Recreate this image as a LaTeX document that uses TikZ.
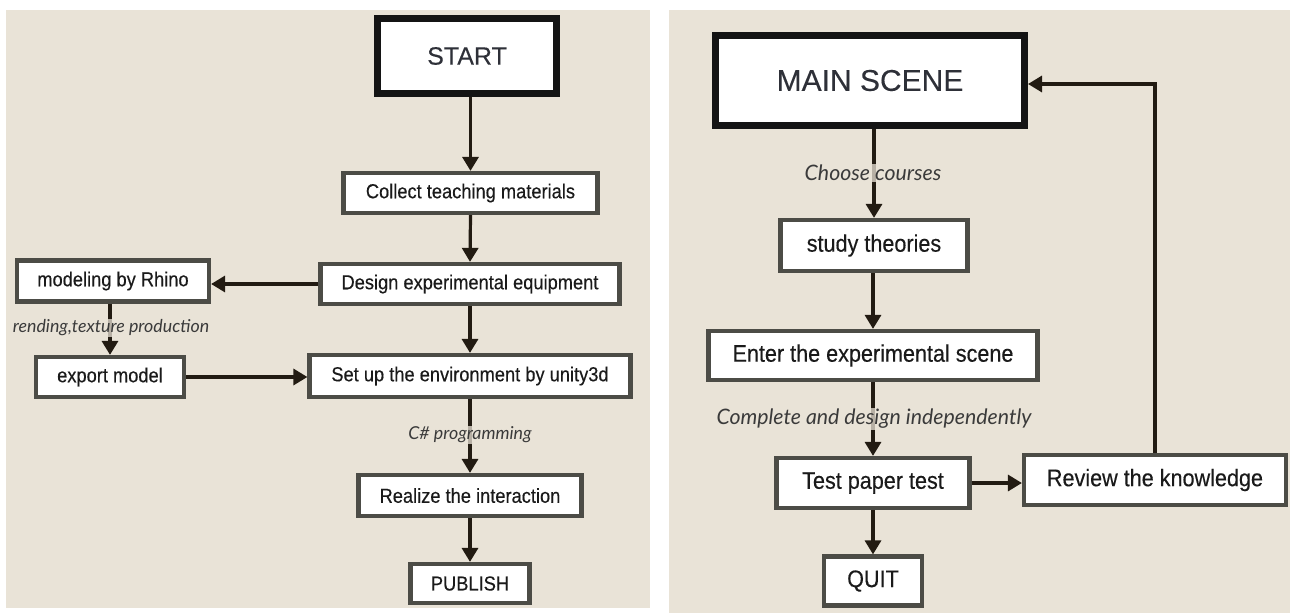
\documentclass[tikz,border=0pt]{standalone}
\usepackage{fontspec}
\setmainfont{Liberation Sans}
\newfontfamily\boxfont{Liberation Sans}[FakeStretch=0.9,FakeBold=0.3]
\newfontfamily\bigfont{Liberation Sans}[FakeBold=0.2]
\newfontfamily\labfont{Lato}
\usetikzlibrary{arrows.meta}
\definecolor{bg}{HTML}{E9E3D7}
\definecolor{boxline}{HTML}{4C4C46}
\definecolor{thickline}{HTML}{141414}
\definecolor{arrowc}{HTML}{221B12}
\definecolor{txt}{HTML}{1A1A1A}
\definecolor{bigtxt}{HTML}{2E3038}
\definecolor{labtxt}{HTML}{3A3A3A}
\tikzset{
  stepbox/.style={draw=boxline, line width=4.2pt, fill=white, inner sep=0pt, text=txt, align=center},
  leftbox/.style={stepbox, font=\boxfont\fontsize{20.3}{22}\selectfont},
  rightbox/.style={stepbox, font=\boxfont\fontsize{24}{26}\selectfont},
  bigbox/.style={draw=thickline, line width=7pt, fill=white, inner sep=0pt, text=bigtxt},
  arr/.style={draw=arrowc, line width=3.2pt, -{Triangle[length=14pt,width=16pt]}},
  lab/.style={fill=bg, fill opacity=0.75, text opacity=1, text=labtxt, inner sep=1pt},
  lableft/.style={lab, font=\labfont\itshape\fontsize{17.8}{20}\selectfont},
  labright/.style={lab, font=\labfont\itshape\fontsize{21.3}{24}\selectfont},
}
\begin{document}
\begin{tikzpicture}[x=1pt,y=-1pt]
\useasboundingbox (0,0) rectangle (1290,613);
\fill[white] (0,0) rectangle (1290,613);
\fill[bg] (6,10) rectangle (650,608);
\fill[bg] (669,10) rectangle (1290,613);

% ---------- left panel ----------
\node[bigbox, minimum width=179pt, minimum height=75pt, font=\bigfont\fontsize{25}{28}\selectfont] (start) at (467,56) {START};
\node[leftbox, minimum width=254pt, minimum height=40pt] (collect) at (470.5,193) {Collect teaching materials};
\node[leftbox, minimum width=299pt, minimum height=40pt] (design) at (470,284) {Design experimental equipment};
\node[leftbox, minimum width=192pt, minimum height=41pt] (rhino) at (113,281) {modeling by Rhino};
\node[leftbox, minimum width=148pt, minimum height=40pt] (export) at (110,377) {export model};
\node[leftbox, minimum width=321pt, minimum height=42pt] (setup) at (470,376) {Set up the environment by unity3d};
\node[leftbox, minimum width=223pt, minimum height=41pt] (realize) at (470,495.5) {Realize the interaction};
\node[leftbox, minimum width=119pt, minimum height=39pt] (publish) at (470,583.5) {PUBLISH};

\draw[arr] (start.south -| collect.north) -- (collect.north);
\draw[arr] (collect.south) -- (design.north);
\draw[arr] (design.west) -- (design.west -| rhino.east);
\draw[arr] (rhino.south -| export.north) -- (export.north);
\node[lableft] (lab1) at (111,328) {rending,texture production};
\draw[arr] (export.east) -- (export.east -| setup.west);
\draw[arr] (design.south) -- (setup.north);
\draw[arr] (setup.south) -- (realize.north);
\node[lableft] (lab2) at (470,435) {C\# programming};
\draw[arr] (realize.south) -- (publish.north);

% ---------- right panel ----------
\node[bigbox, minimum width=309pt, minimum height=90pt, font=\bigfont\fontsize{30}{33}\selectfont] (main) at (870,80.5) {MAIN SCENE};
\node[rightbox, minimum width=187pt, minimum height=51pt] (study) at (874,245.5) {study theories};
\node[rightbox, minimum width=329pt, minimum height=49pt] (enter) at (873,355.5) {Enter the experimental scene};
\node[rightbox, minimum width=193pt, minimum height=50pt] (test) at (873,483) {Test paper test};
\node[rightbox, minimum width=262pt, minimum height=50pt] (review) at (1155,480) {Review the knowledge};
\node[rightbox, minimum width=98pt, minimum height=49pt] (quit) at (873,581) {QUIT};

\draw[arr] (main.south -| study.north) -- (study.north);
\node[labright] (lab3) at (873,173) {Choose courses};
\draw[arr] (study.south -| enter.north) -- (enter.north);
\draw[arr] (enter.south) -- (test.north);
\node[labright] (lab4) at (874,419) {Complete and design independently};
\draw[arr] (test.east) -- (test.east -| review.west);
\draw[arr] (test.south) -- (quit.north);
\draw[arr] (review.north) |- ([yshift=-3.5pt]main.east);
\end{tikzpicture}
\end{document}
